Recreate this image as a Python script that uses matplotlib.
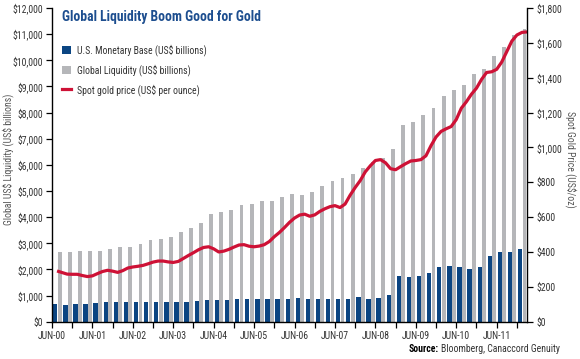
import matplotlib
matplotlib.use('Agg')
import matplotlib.pyplot as plt
import numpy as np
from matplotlib import font_manager as fm
from matplotlib.ticker import FuncFormatter
from matplotlib.patches import Patch
from matplotlib.lines import Line2D

# pick a narrow sans font if one is installed
_fonts = fm.fontManager.ttflist
_names = {f.name for f in _fonts}
STRETCH = 'normal'
if 'Liberation Sans Narrow' in _names:
    FAMILY = 'Liberation Sans Narrow'
elif 'Roboto Condensed' in _names:
    FAMILY = 'Roboto Condensed'
elif any(f.name == 'DejaVu Sans' and str(f.stretch).lower() in ('condensed', 'semi-condensed', '87.5', '75')
         for f in _fonts):
    FAMILY = 'DejaVu Sans'
    STRETCH = 'condensed'
elif 'Liberation Sans' in _names:
    FAMILY = 'Liberation Sans'
else:
    FAMILY = 'DejaVu Sans'
plt.rcParams['font.family'] = [FAMILY, 'DejaVu Sans']
plt.rcParams['font.stretch'] = STRETCH

# Quarterly tick labels (every 4 quarters from Jun-2000)
tick_labels = ['JUN-00', 'JUN-01', 'JUN-02', 'JUN-03', 'JUN-04', 'JUN-05',
               'JUN-06', 'JUN-07', 'JUN-08', 'JUN-09', 'JUN-10', 'JUN-11']

# U.S. Monetary Base (US$ billions), quarterly Q2-2000 .. Q4-2011
monetary_base = [660, 630, 660, 660, 700, 740, 740, 740, 740, 740, 740, 765,
                 765, 765, 800, 820, 830, 830, 865, 865, 865, 865, 865, 865,
                 900, 865, 865, 865, 865, 865, 930, 868, 895, 1010, 1750, 1710,
                 1750, 1865, 2080, 2130, 2080, 2005, 2080, 2500, 2670, 2670, 2785]

# Global Liquidity (US$ billions)
global_liquidity = [2650, 2680, 2720, 2720, 2720, 2790, 2840, 2875, 2985, 3130,
                    3170, 3245, 3420, 3575, 3780, 4110, 4180, 4260, 4450, 4520,
                    4610, 4620, 4760, 4870, 4855, 4980, 5200, 5390, 5490, 5645,
                    5890, 6100, 6270, 6590, 7530, 7630, 7925, 8185, 8620, 8880,
                    9070, 9480, 9670, 10180, 10500, 10950, 11200]

# Spot gold price (US$/oz), sampled every half quarter starting mid Q2-2000
gold_price = [291, 282, 273, 272, 272, 265, 259, 263, 276, 288, 295, 290, 283,
              293, 308, 314, 318, 323, 332, 342, 348, 348, 343, 340, 346, 363,
              380, 396, 413, 426, 430, 418, 400, 405, 415, 428, 440, 442, 433,
              430, 434, 442, 460, 488, 512, 540, 570, 595, 612, 617, 605, 613,
              633, 648, 660, 666, 655, 675, 726, 770, 810, 860, 895, 925, 930,
              912, 878, 872, 890, 907, 922, 925, 930, 952, 1010, 1060, 1092,
              1107, 1120, 1160, 1225, 1262, 1305, 1340, 1390, 1430, 1434, 1448,
              1490, 1550, 1610, 1645, 1660, 1663]

BLUE = '#0B4582'
GRAY = '#B5B6B9'
RED = '#CE1236'
TXT = '#333333'

W, H = 580, 359
fig = plt.figure(figsize=(W / 100, H / 100), dpi=100)
left, right, top, bottom = 52, 527, 8, 321.7
ax = fig.add_axes([left / W, 1 - bottom / H, (right - left) / W, (bottom - top) / H])
ax2 = ax.twinx()

n = len(monetary_base)
x = np.arange(n)
ax.bar(x + 0.32, monetary_base, width=0.43, color=BLUE, linewidth=0)
ax.bar(x + 0.75, global_liquidity, width=0.38, color=GRAY, linewidth=0)

gx = 0.5 + 0.5 * np.arange(len(gold_price))
ax2.plot(gx, gold_price, color=RED, lw=2.3, solid_capstyle='butt',
         solid_joinstyle='round')

ax.set_xlim(0, 47)
ax.set_ylim(0, 12000)
ax2.set_ylim(0, 1800)

ax.set_xticks(np.arange(0, 45, 4))
ax.set_xticklabels(tick_labels)
ax.set_xticks(np.arange(2, 47, 4), minor=True)

ax.set_yticks(np.arange(0, 12001, 1000))
ax2.set_yticks(np.arange(0, 1801, 200))
fmt = FuncFormatter(lambda v, p: '${:,.0f}'.format(v))
ax.yaxis.set_major_formatter(fmt)
ax2.yaxis.set_major_formatter(fmt)

for a in (ax, ax2):
    a.tick_params(axis='both', which='both', labelsize=7, colors='#000000',
                  labelcolor=TXT, length=4, width=0.9, pad=2.5)
    a.spines['top'].set_visible(False)
    for s in a.spines.values():
        s.set_linewidth(1.0)
        s.set_color('#000000')
ax.spines['right'].set_visible(False)
ax2.spines['left'].set_visible(False)
ax2.spines['bottom'].set_visible(False)
ax.tick_params(axis='x', pad=3)

# axis titles
fig.text(8.5 / W, 1 - 159 / H, r'Global US\$ Liquidity (US\$ billions)', rotation=90,
         ha='center', va='center', fontsize=7, color='#555555')
fig.text(571 / W, 1 - 159 / H, r'Spot Gold Price (US\$/oz)', rotation=-90,
         ha='center', va='center', fontsize=7, color='#555555')

# title
fig.text(62 / W, 1 - 21 / H, 'Global Liquidity Boom Good for Gold', fontsize=9.8,
         fontweight='bold', color='#1D4E8F', ha='left', va='baseline')

# legend
handles = [Patch(facecolor=BLUE, edgecolor='none'),
           Patch(facecolor=GRAY, edgecolor='none'),
           Line2D([0], [0], color=RED, lw=2.3)]
labels = [r'U.S. Monetary Base (US\$ billions)', r'Global Liquidity (US\$ billions)',
          r'Spot gold price (US\$ per ounce)']
leg = ax2.legend(handles, labels, loc='upper left',
                 bbox_to_anchor=((62 - left) / (right - left), (bottom - 44) / (bottom - top)),
                 frameon=False, fontsize=7, handlelength=0.9, handleheight=0.9,
                 handletextpad=0.6, labelspacing=0.85, borderaxespad=0, borderpad=0)
for t in leg.get_texts():
    t.set_color(TXT)

# source
src = fig.text(560 / W, 1 - 352 / H, 'Bloomberg, Canaccord Genuity', fontsize=7,
               ha='right', va='baseline', color=TXT)
fig.canvas.draw()
bb = src.get_window_extent(fig.canvas.get_renderer())
fig.text((bb.x0 - 2) / W, 1 - 352 / H, 'Source:', fontsize=7, fontweight='bold',
         ha='right', va='baseline', color='#000000')

fig.savefig('out.png', dpi=100)
